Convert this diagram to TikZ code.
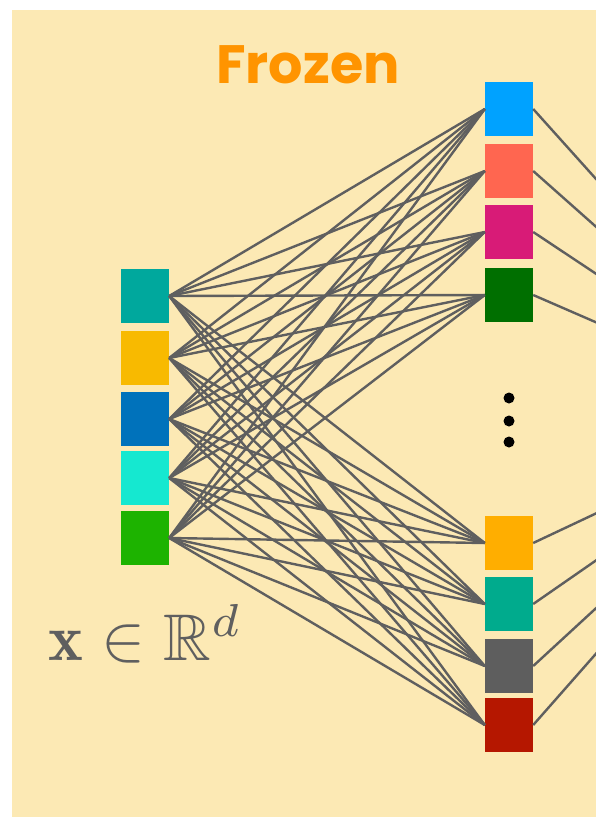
\documentclass[tikz,border=0pt]{standalone}
\usepackage{amssymb}
\usepackage{graphicx}
\usepackage{fontspec}
\newfontfamily\poppins{Poppins}
\definecolor{bgcol}{RGB}{252,233,180}
\definecolor{linecol}{RGB}{95,95,95}
\definecolor{frozencol}{RGB}{255,148,0}
\definecolor{cA}{RGB}{0,168,157}
\definecolor{cB}{RGB}{248,186,0}
\definecolor{cC}{RGB}{0,114,187}
\definecolor{cD}{RGB}{21,232,208}
\definecolor{cE}{RGB}{29,179,0}
\definecolor{dA}{RGB}{0,162,255}
\definecolor{dB}{RGB}{255,102,80}
\definecolor{dC}{RGB}{216,27,119}
\definecolor{dD}{RGB}{0,111,0}
\definecolor{dE}{RGB}{255,174,0}
\definecolor{dF}{RGB}{0,171,141}
\definecolor{dG}{RGB}{94,94,94}
\definecolor{dH}{RGB}{181,23,0}
\begin{document}
\begin{tikzpicture}[x=1pt,y=-1pt,
  unit/.style={rectangle,minimum width=48pt,minimum height=54pt,inner sep=0pt,draw=none},
  conn/.style={draw=linecol,line width=2.4pt},
  vdot/.style={circle,fill=black,inner sep=0pt,minimum size=11pt}]
\useasboundingbox (0,0) rectangle (596,817);
\clip (0,0) rectangle (596,817);
\fill[bgcol] (12,10) rectangle (600,820);
\node[text=frozencol,font=\poppins\bfseries\fontsize{54}{60}\selectfont,anchor=base,inner sep=0pt] (title) at (308,83) {Frozen};
% input units
\foreach \n/\y/\c in {1/296/cA,2/358/cB,3/419/cC,4/478/cD,5/538/cE}
  \node[unit,fill=\c] (in\n) at (145,\y) {};
% hidden units
\foreach \n/\y/\c in {1/109/dA,2/171/dB,3/232/dC,4/295/dD,5/543/dE,6/604/dF,7/666/dG,8/725/dH}
  \node[unit,fill=\c] (h\n) at (509,\y) {};
\coordinate (out) at (807,414);
\foreach \i in {1,...,5}
  \foreach \j in {1,...,8}
    \draw[conn] (in\i.east) -- (h\j.west);
\foreach \j in {1,...,8}
  \draw[conn] (h\j.east) -- (out);
\node[vdot] (d1) at (509,398) {};
\node[vdot] (d2) at (509,421) {};
\node[vdot] (d3) at (509,442) {};
\node[text=linecol,anchor=base west,inner sep=0pt] (lab) at (48,660) {\scalebox{6.6}{$\mathbf{x}\in\mathbb{R}^d$}};
\end{tikzpicture}
\end{document}
